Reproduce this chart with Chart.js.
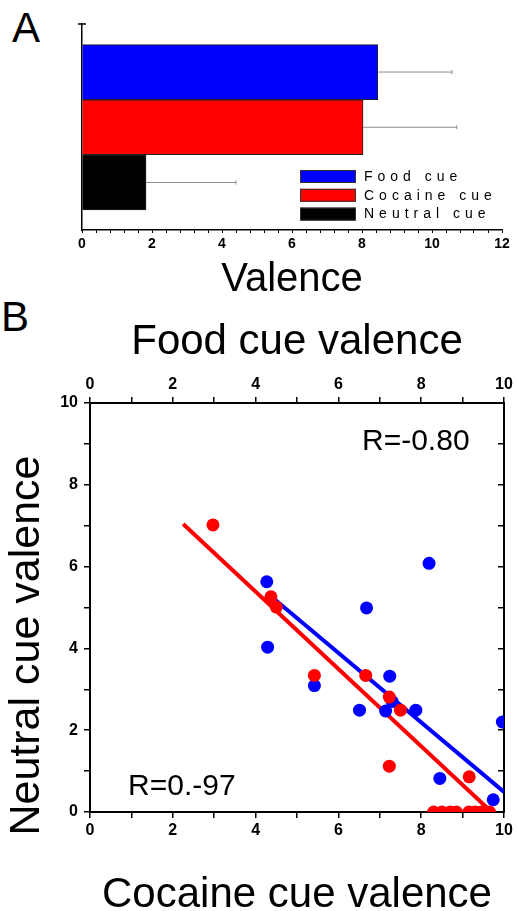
<!DOCTYPE html>
<html>
<head>
<meta charset="utf-8">
<script src="https://cdn.jsdelivr.net/npm/chart.js@4"></script>
<style>
  body { margin: 0; background: #fff; width: 518px; height: 911px; overflow: hidden; position: relative; font-family: "Liberation Sans", Arial, sans-serif; }
  canvas { position: absolute; left: 0; }
  #chartA { top: 0; }
  #chartB { top: 300px; }
  .panel { position: absolute; font-size: 42px; line-height: 42px; color: #000; }
</style>
</head>
<body>
<div class="panel" style="left:12px;top:7px">A</div>
<div class="panel" style="left:1px;top:296px">B</div>
<canvas id="chartA" width="518" height="300"></canvas>
<canvas id="chartB" width="518" height="611"></canvas>
<script>
// panel A: mean valence per cue
const categories = ['Food cue', 'Cocaine cue', 'Neutral cue'];
const means = [8.45, 8.03, 1.83];
const errors = [2.12, 2.68, 2.57];
const barColors = ['#0000ff', '#ff0000', '#000000'];

// panel B: food (blue, top axis) and cocaine (red, bottom axis) vs neutral
const foodX = [4.27, 4.29, 5.42, 6.68, 6.51, 7.14, 7.24, 7.30, 7.87, 8.19, 8.45, 9.74, 9.96];
const foodNeutral = [5.63, 4.03, 3.09, 4.99, 2.49, 2.47, 3.32, 2.70, 2.49, 6.08, 0.82, 0.30, 2.20];
const cocaineX = [2.97, 4.37, 4.50, 5.42, 6.66, 7.23, 7.50, 7.23, 9.16, 8.30, 8.50, 8.70, 8.85, 9.15, 9.30, 9.45, 9.65];
const cocaineNeutral = [7.02, 5.26, 5.01, 3.34, 3.34, 2.81, 2.49, 1.12, 0.86, 0, 0, 0, 0, 0, 0, 0, 0];
const foodFitX = [4.27, 10];
const foodFitY = [5.36, 0.49];
const cocaineFitX = [2.25, 9.70];
const cocaineFitY = [7.04, 0];
const rLabels = ['R=-0.80', 'R=0.-97'];

const FONT = '"Liberation Sans", Arial, sans-serif';

const errorBars = {
  id: 'errorBars',
  afterDatasetsDraw(chart) {
    const { ctx, scales: { x, y } } = chart;
    ctx.save();
    ctx.strokeStyle = '#8c8c8c';
    ctx.lineWidth = 1;
    means.forEach((m, i) => {
      const py = y.getPixelForValue(i + 1);
      const x0 = x.getPixelForValue(m);
      const x1 = x.getPixelForValue(m + errors[i]);
      ctx.beginPath();
      ctx.moveTo(x0, py); ctx.lineTo(x1, py);
      ctx.moveTo(x1, py - 2); ctx.lineTo(x1, py + 2);
      ctx.stroke();
    });
    // little cap on top of the category axis
    const ax = chart.chartArea.left, ay = chart.chartArea.top;
    ctx.strokeStyle = '#000';
    ctx.lineWidth = 1.5;
    ctx.beginPath();
    ctx.moveTo(ax - 4, ay); ctx.lineTo(ax + 4, ay);
    ctx.stroke();
    ctx.restore();
  }
};

const boxLegend = {
  id: 'boxLegend',
  afterDraw(chart) {
    const { ctx, chartArea } = chart;
    const left = chartArea.left + 218, top = chartArea.top + 146;
    ctx.save();
    ctx.font = '14px ' + FONT;
    ctx.letterSpacing = '5px';
    ctx.textBaseline = 'middle';
    categories.forEach((c, i) => {
      const yy = top + i * 18.8;
      ctx.fillStyle = barColors[i];
      ctx.fillRect(left, yy, 56, 13);
      ctx.strokeStyle = '#333';
      ctx.lineWidth = 1;
      ctx.strokeRect(left + 0.5, yy + 0.5, 55, 12);
      ctx.fillStyle = '#000';
      ctx.fillText(c, left + 64, yy + 7);
    });
    ctx.restore();
  }
};

new Chart(document.getElementById('chartA'), {
  type: 'bar',
  data: {
    datasets: [{
      data: means.map((m, i) => ({ x: m, y: i + 1 })),
      backgroundColor: barColors,
      borderColor: '#222',
      borderWidth: 1,
      barThickness: 55
    }]
  },
  options: {
    indexAxis: 'y',
    responsive: false,
    animation: false,
    layout: { padding: { top: 24, right: 16, left: 0, bottom: 0 } },
    plugins: { legend: { display: false }, tooltip: { enabled: false } },
    scales: {
      x: {
        type: 'linear', min: 0, max: 12, position: 'bottom',
        ticks: {
          stepSize: 0.4, autoSkip: false, maxRotation: 0, color: '#000', padding: 3,
          font: { family: FONT, size: 14, weight: 'bold' },
          callback: v => Math.abs(v % 2) < 1e-6 ? v : ''
        },
        grid: { drawOnChartArea: false, tickLength: 3, color: '#000' },
        border: { color: '#000', width: 1.5 },
        title: { display: true, text: 'Valence', color: '#000', font: { family: FONT, size: 40, lineHeight: 1 }, padding: { top: 0, bottom: 0 } },
        afterFit: s => { s.height = 70; }
      },
      y: {
        // linear index axis so the three bars touch like in the figure
        type: 'linear', min: 0.13, max: 3.86, reverse: true, offset: false,
        ticks: { display: false },
        grid: { display: false, offset: false },
        border: { color: '#000', width: 1.5 },
        afterFit: s => { s.width = 82; }
      }
    }
  },
  plugins: [errorBars, boxLegend]
});

const rNotes = {
  id: 'rNotes',
  afterDatasetsDraw(chart) {
    const { ctx, scales: { x, y } } = chart;
    const spots = [[6.57, 8.85], [0.92, 0.42]];
    ctx.save();
    ctx.font = '30px ' + FONT;
    ctx.fillStyle = '#000';
    ctx.textBaseline = 'alphabetic';
    rLabels.forEach((t, i) => ctx.fillText(t, x.getPixelForValue(spots[i][0]), y.getPixelForValue(spots[i][1])));
    ctx.restore();
  }
};

// y title is drawn by hand: in the reference it sits lower than the axis centre
const yTitle = {
  id: 'yTitle',
  afterDraw(chart) {
    const { ctx, chartArea } = chart;
    ctx.save();
    ctx.translate(27, (chartArea.top + chartArea.bottom) / 2 + 38);
    ctx.rotate(-Math.PI / 2);
    ctx.font = '43px ' + FONT;
    ctx.fillStyle = '#000';
    ctx.textAlign = 'center';
    ctx.textBaseline = 'middle';
    ctx.fillText('Neutral cue valence', 0, 0);
    ctx.restore();
  }
};

const tickFont = { family: FONT, size: 16, weight: 'bold' };
const evenLabel = v => v % 2 === 0 ? v : '';
const axisBase = {
  type: 'linear', min: 0, max: 10,
  ticks: { stepSize: 1, autoSkip: false, maxRotation: 0, color: '#000', font: tickFont, callback: evenLabel },
  grid: { drawOnChartArea: false, tickLength: 6, color: '#000', lineWidth: 1.5 },
  border: { color: '#000', width: 2 }
};
const titleFont = { family: FONT, size: 42, lineHeight: 0.9 };

new Chart(document.getElementById('chartB'), {
  type: 'scatter',
  data: {
    datasets: [
      { type: 'line', data: foodFitX.map((x, i) => ({ x, y: foodFitY[i] })), xAxisID: 'xTop', borderColor: '#0000ff', borderWidth: 4, pointRadius: 0, order: 4 },
      { type: 'line', data: cocaineFitX.map((x, i) => ({ x, y: cocaineFitY[i] })), xAxisID: 'x', borderColor: '#ff0000', borderWidth: 4, pointRadius: 0, order: 3 },
      { label: 'Food cue', data: foodX.map((x, i) => ({ x, y: foodNeutral[i] })), xAxisID: 'xTop', backgroundColor: '#0000ff', borderWidth: 0, pointRadius: 6.5, clip: 0, order: 2 },
      { label: 'Cocaine cue', data: cocaineX.map((x, i) => ({ x, y: cocaineNeutral[i] })), xAxisID: 'x', backgroundColor: '#ff0000', borderWidth: 0, pointRadius: 6.5, clip: 0, order: 1 }
    ]
  },
  options: {
    responsive: false,
    animation: false,
    layout: { padding: 0 },
    plugins: { legend: { display: false }, tooltip: { enabled: false } },
    scales: {
      x: {
        ...axisBase, position: 'bottom',
        ticks: { ...axisBase.ticks, padding: 3 },
        title: { display: true, text: 'Cocaine cue valence', color: '#000', font: { ...titleFont, lineHeight: 0.72 }, padding: { top: 0, bottom: 0 } },
        afterFit: s => { s.height = 99; }
      },
      xTop: {
        ...axisBase, position: 'top',
        ticks: { ...axisBase.ticks, padding: 3 },
        title: { display: true, text: 'Food cue valence', color: '#000', font: titleFont, padding: { top: 24, bottom: 0 } },
        afterFit: s => { s.height = 103; }
      },
      y: {
        ...axisBase, position: 'left',
        ticks: { ...axisBase.ticks, padding: 6 },
        afterFit: s => { s.width = 90; }
      },
      yRight: {
        ...axisBase, position: 'right',
        ticks: { ...axisBase.ticks, display: false },
        grid: { ...axisBase.grid, tickLength: -6 },
        afterFit: s => { s.width = 14; }
      }
    }
  },
  plugins: [rNotes, yTitle]
});
</script>
</body>
</html>
